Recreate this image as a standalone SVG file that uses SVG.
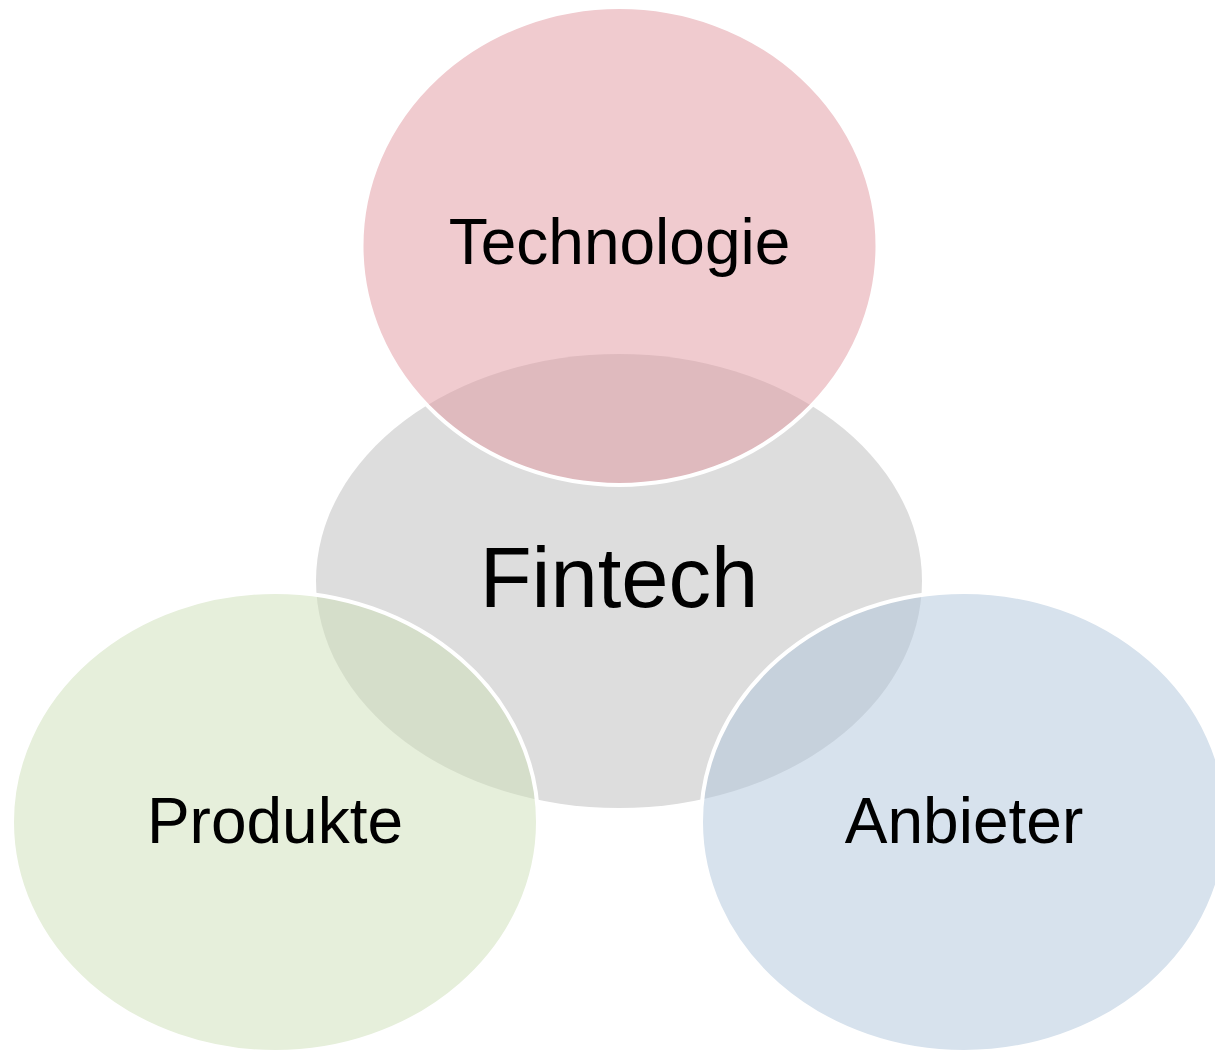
<svg xmlns="http://www.w3.org/2000/svg" width="1215" height="1052" viewBox="0 0 1215 1052">
<style>
.lbl{font-family:"Liberation Sans",Arial,sans-serif;fill:#000;text-anchor:middle}
.sat{stroke:#fff;stroke-width:4;fill-opacity:0.5}
</style>
<rect width="1215" height="1052" fill="#fff"/>
<g id="fintech">
<ellipse cx="619" cy="581" rx="303" ry="227" fill="#dddddd"/>
</g>
<g id="technologie">
<ellipse class="sat" cx="619.5" cy="246" rx="258" ry="239" fill="#e1979f"/>
<text class="lbl" x="619.5" y="264" font-size="64">Technologie</text>
</g>
<g id="produkte">
<ellipse class="sat" cx="275" cy="822" rx="263" ry="230" fill="#cddfb7"/>
<text class="lbl" x="275" y="843" font-size="64">Produkte</text>
</g>
<g id="anbieter">
<ellipse class="sat" cx="964" cy="822" rx="263" ry="230" fill="#afc5db"/>
<text class="lbl" x="964" y="843" font-size="64">Anbieter</text>
</g>
<text class="lbl" x="619" y="607" font-size="85">Fintech</text>
<g id="connectors"/>
</svg>
